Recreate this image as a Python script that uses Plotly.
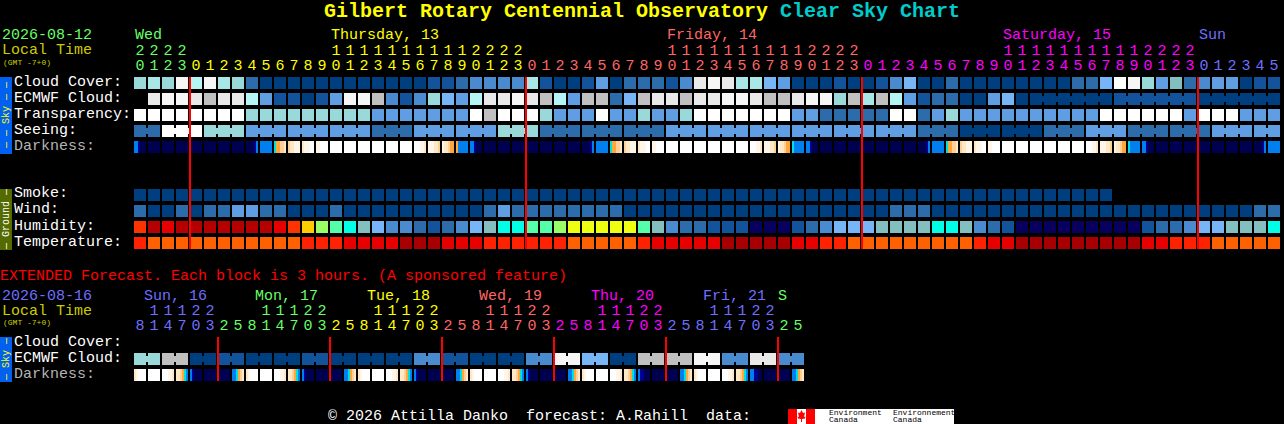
import plotly.graph_objects as go

W, H = 1284, 424
FONT = "Liberation Mono, DejaVu Sans Mono, monospace"

# ---------- data ----------
HOURS = [20, 21, 22, 23,
         0, 1, 2, 3, 4, 5, 6, 7, 8, 9, 10, 11, 12, 13, 14, 15, 16, 17, 18, 19, 20, 21, 22, 23,
         0, 1, 2, 3, 4, 5, 6, 7, 8, 9, 10, 11, 12, 13, 14, 15, 16, 17, 18, 19, 20, 21, 22, 23,
         0, 1, 2, 3, 4, 5, 6, 7, 8, 9, 10, 11, 12, 13, 14, 15, 16, 17, 18, 19, 20, 21, 22, 23,
         0, 1, 2, 3, 4, 5]
EXT_HOURS = [8, 11, 14, 17, 20, 23,
             2, 5, 8, 11, 14, 17, 20, 23,
             2, 5, 8, 11, 14, 17, 20, 23,
             2, 5, 8, 11, 14, 17, 20, 23,
             2, 5, 8, 11, 14, 17, 20, 23,
             2, 5, 8, 11, 14, 17, 20, 23,
             2, 5]
DAY_LABELS = ["Wed", "Thursday, 13", "Friday, 14", "Saturday, 15", "Sun"]
EXT_DAY_LABELS = ["Sun, 16", "Mon, 17", "Tue, 18", "Wed, 19", "Thu, 20", "Fri, 21", "S"]
ROW_LABELS = ["Cloud Cover:", "ECMWF Cloud:", "Transparency:", "Seeing:", "Darkness:"]
GROUND_LABELS = ["Smoke:", "Wind:", "Humidity:", "Temperature:"]
EXT_LABELS = ["Cloud Cover:", "ECMWF Cloud:", "Darkness:"]

CLOUD = list("ghgxixhgca" "aaaaaaaaaa" "abbcddddhb" "aabeacccbd" "yxyhhfeaaa" "baabdfaaca" "aaaaaaaccf" "wxgeTcdeeabb")
ECMWF = list(".yxxyzyyie" "bbabexxzdb" "dgfeiyyxyz" "iezzcfzyyz" "yyxxyzzyxx" "gzhziebcca" "aefaaaaaaa" "bbbbbbaaaaaa")
ECMWF_GROUP_START = 64
ECMWF_GROUP_SIZE = 6
TRANSP = list("wwwwwwwwgg" "gggggggeee" "eeeewzwwwg" "eeeweegeeg" "wwwwwwweec" "ccccwwcege" "eeeeeeeeew" "wwwwwewwweee")
SEEING_3H = list("cwgeeeceegccceeeeeecaaceccee")
SEEING_BLOCKS = [2] + [3] * 26 + [2]
SMOKE = list("aaaaaaaaaa" "aaaaaaaaaa" "aaaaaaaaaa" "aaaaaaaaaa" "aaaaaaaaaa" "aaaaaaaaaa" "aaaaaaaaaa") + ["."] * 12
WIND = list("caacacceec" "caaacaaaaa" "aaaaaceccc" "cccccaaaaa" "aaaaaaaaaa" "aaaacccaaa" "aaaaaaaaaa" "aaaaaaaaaacc")
HUMIDITY = list("Rsqsssssss" "qROLGCTfdd" "cbcdfTCCGG" "LYYYYYGTdc" "cbbbNNNbcd" "fffTTTTCCT" "dcbNNNNNNN" "NNbccdffTTTC")
TEMPERATURE = list("PQQQQQQQQQ" "QQPPPqqqqD" "DDqqqPPPPP" "PQQQQQPqqq" "qqDDDDDqqP" "PQQQQQQQQQ" "PqqDDDDDDD" "DDqqPPPQQQQQ")
EXT_ECMWF = list("ggzzaabbaaaabbaaaaaadd" "bbaaaaddxxffaazzzzxxddyydd")

# darkness: six readings across each block, 0 = full night ... 9 = full daylight
DARKNESS = [
    "331000", "000000", "000000", "000000", "000000", "000000", "000000", "000000", "000013", "333333",
    "455667", "677888", "788899", "889999", "999999", "999999", "999999", "999999", "999999", "999999",
    "999887", "888776", "877655", "533333", "331000", "000000", "000000", "000000", "000000", "000000",
    "000000", "000000", "000013", "333333", "455667", "677888", "788899", "889999", "999999", "999999",
    "999999", "999999", "999999", "999999", "999887", "888776", "877655", "433333", "331000", "000000",
    "000000", "000000", "000000", "000000", "000000", "000000", "000013", "333333", "455667", "677888",
    "788899", "889999", "999999", "999999", "999999", "999999", "999999", "999999", "999887", "888776",
    "877655", "433333", "331000", "000000", "000000", "000000", "000000", "000000", "000000", "000000",
    "000013", "333333",
]
EXT_DARKNESS = [
    "789999", "999999", "999887", "776543", "310000", "000000", "000000", "334567",
    "789999", "999999", "999887", "776543", "310000", "000000", "000000", "334567",
    "789999", "999999", "999887", "776543", "310000", "000000", "000000", "334567",
    "789999", "999999", "999887", "776543", "310000", "000000", "000000", "334567",
    "789999", "999999", "999887", "776543", "311000", "000000", "000000", "334567",
    "789999", "999999", "999887", "776543", "331100", "000000", "000000", "334567",
]

# ---------- styles ----------
PALETTE = {
    "a": "#003f7f", "b": "#13539b", "c": "#2c6cab", "d": "#4a8bd0", "e": "#5f9ee2", "f": "#77b5f7",
    "g": "#99d9d9", "h": "#a9e6e6", "i": "#b5f5f5", "T": "#84bfbf",
    "w": "#ffffff", "x": "#f6f6f6", "y": "#e9e9e9", "z": "#c0c0c0",
    "N": "#08005f", "C": "#00ffe6", "G": "#55ffaa", "L": "#99ff66", "Y": "#eeff11", "O": "#ffcc00",
    "P": "#ff2200", "Q": "#ff6000", "R": "#ff3300", "q": "#e60000", "s": "#b40000", "D": "#a80000",
}
KEYS = list(PALETTE)
N_KEYS = len(KEYS)
SCALE = []
for i, k in enumerate(KEYS):
    SCALE += [[i / N_KEYS, PALETTE[k]], [(i + 1) / N_KEYS, PALETTE[k]]]

DARK_COLORS = ["#000050", "#000090", "#0040c8", "#0080f0", "#00e0e0",
               "#ffa73d", "#ffcf94", "#ffe8c8", "#fff6e8", "#ffffff"]
DARK_SCALE = []
for i, c in enumerate(DARK_COLORS):
    DARK_SCALE += [[i / 10, c], [(i + 1) / 10, c]]

GREEN, YELLOW, SALMON, MAGENTA, BLUE = "#66ff66", "#ffff00", "#ff6666", "#ff00ff", "#6f6fff"
DAY_COLORS = [GREEN, YELLOW, SALMON, MAGENTA, BLUE]
EXT_DAY_COLORS = [BLUE, GREEN, YELLOW, SALMON, MAGENTA, BLUE, GREEN]
OLIVE_TXT = "#cccc00"

# scale: column k centre sits at pixel 140+14k, row r at 83+16r (ext: 343+16e)
PITCH_X, PITCH_Y = 14, 16
X0_PX, Y0_PX, EXT_Y0_PX = 140, 83, 343
xrange_ = [-X0_PX / PITCH_X, (W - X0_PX) / PITCH_X]
yrange_ = [(H - Y0_PX) / PITCH_Y, -Y0_PX / PITCH_Y]
y2range_ = [(H - EXT_Y0_PX) / PITCH_Y, -EXT_Y0_PX / PITCH_Y]

seeing = []
for v, n in zip(SEEING_3H, SEEING_BLOCKS):
    seeing += [v] * n


def idx(row):
    return [None if v == "." else KEYS.index(v) + 0.5 for v in row]


fig = go.Figure()
blank = [None] * len(CLOUD)
main_z = [idx(CLOUD), idx(ECMWF), idx(TRANSP), idx(seeing), blank, blank, blank,
          idx(SMOKE), idx(WIND), idx(HUMIDITY), idx(TEMPERATURE)]
fig.add_trace(go.Heatmap(z=main_z, x0=0, dx=1, y0=0, dy=1, xgap=2, ygap=4, zmin=0, zmax=N_KEYS,
                         colorscale=SCALE, showscale=False, hoverinfo="skip", xaxis="x", yaxis="y"))
ext_z = [blank[:len(EXT_ECMWF)], idx(EXT_ECMWF)]
fig.add_trace(go.Heatmap(z=ext_z, x0=0, dx=1, y0=0, dy=1, xgap=2, ygap=4, zmin=0, zmax=N_KEYS,
                         colorscale=SCALE, showscale=False, hoverinfo="skip", xaxis="x", yaxis="y2"))


def dark_trace(blocks, row, yaxis):
    z = []
    for b in blocks:
        z += [int(c) + 0.5 for c in b] + [None]
    fig.add_trace(go.Heatmap(z=[z], x0=-5 / 14, dx=1 / 7, y0=row, dy=1, ygap=4, zmin=0, zmax=10,
                             colorscale=DARK_SCALE, showscale=False, hoverinfo="skip",
                             xaxis="x", yaxis=yaxis))


dark_trace(DARKNESS, 4, "y")
dark_trace(EXT_DARKNESS, 2, "y2")


def connector(start, n, color, row, yaxis):
    fig.add_trace(go.Scatter(x=[start, start + n - 1], y=[row, row], mode="lines",
                             line=dict(color=color, width=6), hoverinfo="skip", yaxis=yaxis, xaxis="x"))


pos = 0
for v, n in zip(SEEING_3H, SEEING_BLOCKS):
    connector(pos, n, PALETTE[v], 3, "y")
    pos += n
for start in range(ECMWF_GROUP_START, len(ECMWF), ECMWF_GROUP_SIZE):
    connector(start, ECMWF_GROUP_SIZE, PALETTE[ECMWF[start]], 1, "y")
for start in range(0, len(EXT_ECMWF), 2):
    connector(start, 2, PALETTE[EXT_ECMWF[start]], 1, "y2")


def midnight_marks(hours):
    return [i for i in range(1, len(hours)) if hours[i] < hours[i - 1]]


def digits(hours, colors, ones_row, tens_row, yaxis):
    day, xs, ys, txt, col = 0, [], [], [], []
    for i, h in enumerate(hours):
        if i and h < hours[i - 1]:
            day += 1
        xs.append(i); ys.append(ones_row); txt.append(str(h % 10)); col.append(colors[day])
        if h >= 10:
            xs.append(i); ys.append(tens_row); txt.append(str(h // 10)); col.append(colors[day])
    fig.add_trace(go.Scatter(x=xs, y=ys, text=txt, mode="text", textposition="middle center",
                             textfont=dict(family=FONT, size=15, color=col), hoverinfo="skip",
                             xaxis="x", yaxis=yaxis))


digits(HOURS, DAY_COLORS, (66 - Y0_PX) / PITCH_Y, (51 - Y0_PX) / PITCH_Y, "y")
digits(EXT_HOURS, EXT_DAY_COLORS, (326 - EXT_Y0_PX) / PITCH_Y, (311 - EXT_Y0_PX) / PITCH_Y, "y2")

# red day lines at the left edge of each day's first block
for m in midnight_marks(HOURS):
    fig.add_trace(go.Scatter(x=[m - 3 / 7] * 2, y=[-0.375, 10.375], mode="lines",
                             line=dict(color="#ff0000", width=2), hoverinfo="skip", xaxis="x", yaxis="y"))
for m in midnight_marks(EXT_HOURS):
    fig.add_trace(go.Scatter(x=[m - 3 / 7] * 2, y=[-0.375, 2.375], mode="lines",
                             line=dict(color="#ff0000", width=2), hoverinfo="skip", xaxis="x", yaxis="y2"))

ann, shapes = [], []


def text(s, px, py, color="#ffffff", size=15, anchor="left", angle=0, bold=False):
    ann.append(dict(text=f"<b>{s}</b>" if bold else s, x=px / W, y=1 - py / H, xref="paper", yref="paper",
                    xanchor=anchor, yanchor="middle", showarrow=False, textangle=angle,
                    borderpad=0, borderwidth=0, font=dict(family=FONT, size=size, color=color)))


def rect(x0, y0, x1, y1, color):
    shapes.append(dict(type="rect", xref="paper", yref="paper", x0=x0 / W, x1=x1 / W,
                       y0=1 - y0 / H, y1=1 - y1 / H, fillcolor=color, line_width=0, layer="below"))


text("Gilbert Rotary Centennial Observatory", 324, 12, "#ffff00", 20, bold=True)
text("Clear Sky Chart", 780, 12, "#00cccc", 20, bold=True)

text("2026-08-12", 2, 36, GREEN)
text("Local Time", 2, 51, OLIVE_TXT)
text("(GMT -7+0)", 3, 62, OLIVE_TXT, 8)
for label, px, c in zip(DAY_LABELS, [135, 331, 667, 1003, 1199], DAY_COLORS):
    text(label, px, 36, c)

for label, py in zip(ROW_LABELS, [82, 98, 114, 130, 146]):
    text(label, 14, py, "#b4b4b4" if label.startswith("Dark") else "#ffffff")
for label, py in zip(GROUND_LABELS, [194, 210, 226, 242]):
    text(label, 14, py)

rect(0, 77, 12, 154, "#0060f0")
text("— — Sky — —", 6.5, 115.5, "#ffff00", 10, "center", -90)
rect(0, 189, 12, 250, "#556b00")
text("— Ground —", 6.5, 219.5, "#ffffff", 10, "center", -90)
rect(0, 337, 12, 382, "#0060f0")
text("— Sky —", 6.5, 359.5, "#ffff00", 10, "center", -90)

text("EXTENDED Forecast. Each block is 3 hours. (A sponsored feature)", 0, 276.5, "#ff0000")
text("2026-08-16", 2, 296, BLUE)
text("Local Time", 2, 311, OLIVE_TXT)
text("(GMT -7+0)", 3, 322, OLIVE_TXT, 8)
for label, px, c in zip(EXT_DAY_LABELS, [144, 255, 367, 479, 591, 703, 778], EXT_DAY_COLORS):
    text(label, px, 296, c)
for label, py in zip(EXT_LABELS, [342, 358, 374]):
    text(label, 14, py, "#b4b4b4" if label.startswith("Dark") else "#ffffff")

text("© 2026 Attilla Danko  forecast: A.Rahill  data:", 328, 416)

# Canadian government signature
rect(788, 409, 954, 424, "#ffffff")
rect(788, 409, 797, 424, "#ff0000")
rect(806, 409, 815, 424, "#ff0000")
leaf = [(801.5, 410), (803, 413), (805, 412.5), (804, 417), (805.5, 416.5), (805, 418.5), (802, 419),
        (802, 422), (801, 422), (801, 419), (798, 418.5), (797.5, 416.5), (799, 417), (798, 412.5), (800, 413)]
path = "M " + " L ".join(f"{x / W:.5f},{1 - y / H:.5f}" for x, y in leaf) + " Z"
shapes.append(dict(type="path", xref="paper", yref="paper", path=path, fillcolor="#ff0000", line_width=0))
text("Environment", 829, 412.5, "#000000", 8)
text("Canada", 829, 419, "#000000", 8)
text("Environnement", 893, 412.5, "#000000", 8)
text("Canada", 893, 419, "#000000", 8)

fig.update_layout(
    width=W, height=H, margin=dict(l=0, r=0, t=0, b=0),
    paper_bgcolor="#000000", plot_bgcolor="#000000", showlegend=False,
    xaxis=dict(range=xrange_, visible=False, fixedrange=True),
    yaxis=dict(range=yrange_, visible=False, fixedrange=True),
    yaxis2=dict(range=y2range_, visible=False, fixedrange=True, overlaying="y"),
    annotations=ann, shapes=shapes,
)
fig.write_html("out.html", config={"displayModeBar": False},
               post_script="document.body.style.margin='0';document.body.style.background='#000';document.body.style.overflow='hidden';")
